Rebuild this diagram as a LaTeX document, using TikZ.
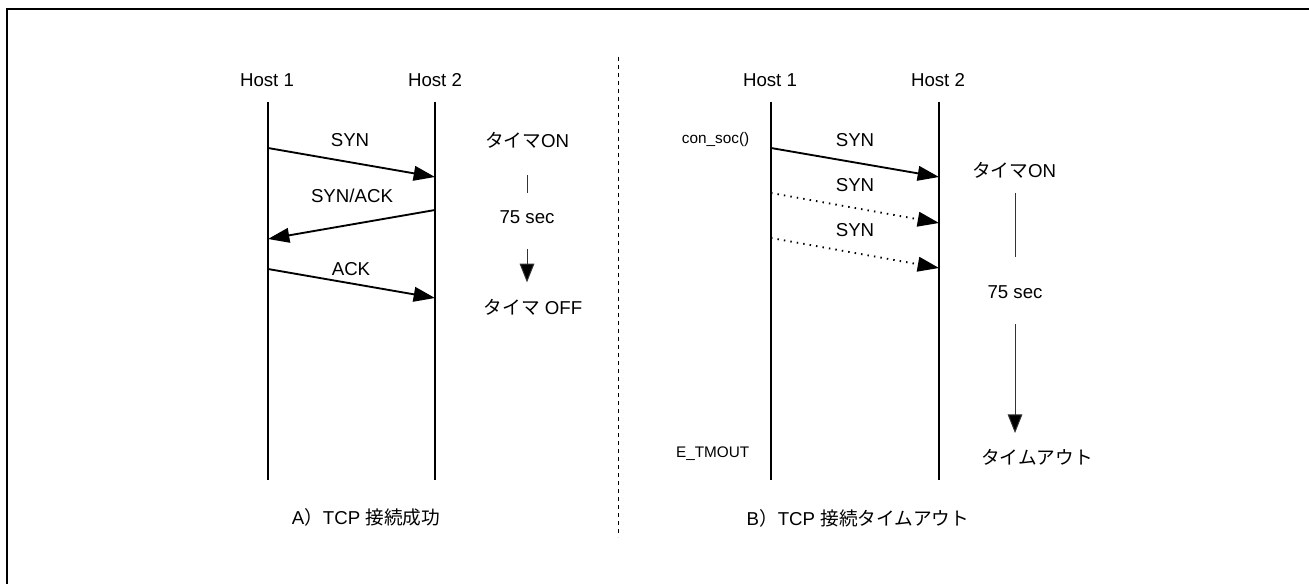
\documentclass[tikz,border=0pt]{standalone}
\usepackage{fontspec}
\setmainfont{Liberation Sans}
\newfontfamily\jpfont{Noto Sans CJK JP}
\usetikzlibrary{arrows.meta, positioning}

\begin{document}
\begin{tikzpicture}[
    x=0.75pt, y=-0.75pt,
    font=\fontsize{14}{16}\selectfont,
    lifeline/.style={line width=1.5pt},
    msg/.style={line width=1.4pt, -{Triangle[length=16pt, width=11pt]}},
    retry/.style={msg, dash pattern=on 1.1pt off 3.8pt},
    timer/.style={line width=0.7pt, black!80},
    timeout/.style={timer, -{Triangle[length=14pt, width=11pt, fill=black]}},
    small/.style={font=\fontsize{11.5}{13}\selectfont}
]
    \useasboundingbox (0,0) rectangle (1309,584);

    % Frame (top and left edge only)
    \draw[line width=2pt] (1309,9) -| (7,584);

    % Divider
    \draw[dashed, line width=0.6pt] (618,57) -- (618,537);

    % A) successful connection
    \node (hostA1) at (267,80) {Host 1};
    \node (hostA2) at (435,80) {Host 2};
    \coordinate (a1top) at (268,102);
    \coordinate (a1bot) at (268,480);
    \coordinate (a2top) at (435,102);
    \coordinate (a2bot) at (435,480);
    \draw[lifeline] (a1top) -- (a1bot);
    \draw[lifeline] (a2top) -- (a2bot);

    \coordinate (synA) at (268,148);
    \coordinate (synAend) at (435,177);
    \coordinate (sakA) at (435,210);
    \coordinate (sakAend) at (268,239);
    \coordinate (ackA) at (268,269);
    \coordinate (ackAend) at (435,298);
    \draw[msg] (synA) -- (synAend);
    \draw[msg] (sakA) -- (sakAend);
    \draw[msg] (ackA) -- (ackAend);
    \node (synAlbl) at (350,140) {SYN};
    \node (sakAlbl) at (352,196) {SYN/ACK};
    \node (ackAlbl) at (351,269) {ACK};

    \node (onA) at (527,140) {{\jpfont タイマ}ON};
    \node (secA) at (527,217) {75 sec};
    \node (offA) at (533,307) {{\jpfont タイマ} OFF};
    \draw[timer, shorten <=17pt, shorten >=18pt] (onA) -- (onA |- secA);
    \draw[timeout, shorten <=15.5pt, shorten >=18.5pt] (secA) -- (secA |- offA);

    \node (capA) at (366,517) {A{\jpfont ）}TCP {\jpfont 接続成功}};

    % B) connection timeout
    \node (hostB1) at (770,80) {Host 1};
    \node (hostB2) at (938,80) {Host 2};
    \coordinate (b1top) at (771,102);
    \coordinate (b1bot) at (771,480);
    \coordinate (b2top) at (939,102);
    \coordinate (b2bot) at (939,480);
    \draw[lifeline] (b1top) -- (b1bot);
    \draw[lifeline] (b2top) -- (b2bot);

    \coordinate (synB) at (771,148);
    \coordinate (synBend) at (939,177);
    \coordinate (retryB1) at (771,193);
    \coordinate (retryB1end) at (939,223);
    \coordinate (retryB2) at (771,238);
    \coordinate (retryB2end) at (939,268);
    \draw[msg] (synB) -- (synBend);
    \draw[retry] (retryB1) -- (retryB1end);
    \draw[retry] (retryB2) -- (retryB2end);
    \node (synBlbl) at (855,140) {SYN};
    \node (retryB1lbl) at (855,185) {SYN};
    \node (retryB2lbl) at (855,230) {SYN};

    \node[small, anchor=east] (consoc) at (754,140) {con\_soc()};
    \node[small, anchor=east] (tmout) at (754,454) {E\_TMOUT};

    \node (onB) at (1014,170) {{\jpfont タイマ}ON};
    \node (secB) at (1015,292) {75 sec};
    \node (outB) at (1037,457) {\jpfont タイムアウト};
    \draw[timer, shorten <=17pt, shorten >=18pt] (onB -| secB) -- (secB);
    \draw[timeout, shorten <=15.5pt, shorten >=18pt] (secB) -- (secB |- outB);

    \node (capB) at (858,518) {B{\jpfont ）}TCP {\jpfont 接続タイムアウト}};
\end{tikzpicture}
\end{document}
